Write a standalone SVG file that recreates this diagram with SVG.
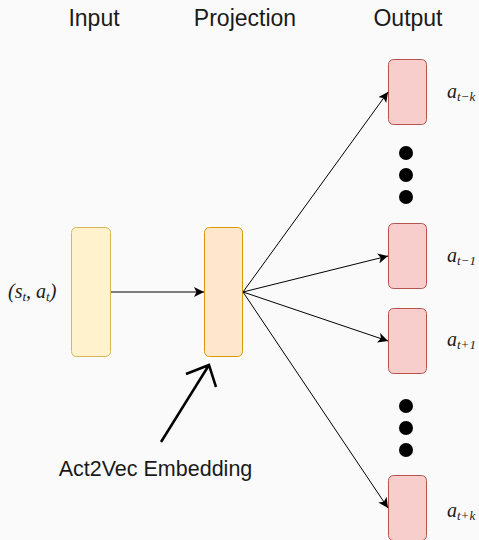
<svg xmlns="http://www.w3.org/2000/svg" width="479" height="540" viewBox="0 0 479 540">
<defs>
<marker id="ah" viewBox="0 0 10 10" refX="10" refY="5" markerWidth="10" markerHeight="10" markerUnits="userSpaceOnUse" orient="auto">
<path d="M0,0 L10,5 L0,10 L2.5,5 Z" fill="#000"/>
</marker>
<style>
.lbl{font-family:"Liberation Sans",Arial,sans-serif;font-size:23px;fill:#1a1a1a;text-anchor:middle}
.m{font-family:"Liberation Serif","Times New Roman",serif;font-style:italic;font-size:20px;fill:#1a1a1a}
.s{font-size:13px}
.c{stroke:#000;stroke-width:1;fill:none}
.out{fill:#f8cecc;stroke:#b85450;stroke-width:1}
.dot{fill:#000}
</style>
</defs>
<rect width="479" height="540" fill="#fafafa"/>
<text class="lbl" x="94" y="26">Input</text>
<text class="lbl" x="245" y="26">Projection</text>
<text class="lbl" x="408" y="26">Output</text>
<g id="input"><rect x="71.5" y="227.5" width="39" height="129" rx="5" fill="#fff2cc" stroke="#d6b656"/></g>
<g id="projection"><rect x="204.5" y="227.5" width="38" height="129" rx="5" fill="#ffe6cc" stroke="#d79b00"/></g>
<g id="out1"><rect class="out" x="388.5" y="59.5" width="38" height="65" rx="5"/></g>
<g id="out2"><rect class="out" x="388.5" y="223.5" width="38" height="65" rx="5"/></g>
<g id="out3"><rect class="out" x="388.5" y="308.5" width="38" height="65" rx="5"/></g>
<g id="out4"><rect class="out" x="388.5" y="475.5" width="38" height="65" rx="5"/></g>
<g id="dots1"><circle class="dot" cx="406" cy="153" r="7"/><circle class="dot" cx="406" cy="175" r="7"/><circle class="dot" cx="406" cy="197" r="7"/></g>
<g id="dots2"><circle class="dot" cx="406" cy="406" r="7"/><circle class="dot" cx="406" cy="428" r="7"/><circle class="dot" cx="406" cy="450" r="7"/></g>
<g id="connectors">
<line class="c" x1="111" y1="292" x2="204" y2="292" marker-end="url(#ah)"/>
<line class="c" x1="243" y1="292" x2="388" y2="92" marker-end="url(#ah)"/>
<line class="c" x1="243" y1="292" x2="388" y2="256" marker-end="url(#ah)"/>
<line class="c" x1="243" y1="292" x2="388" y2="341" marker-end="url(#ah)"/>
<line class="c" x1="243" y1="292" x2="388" y2="508" marker-end="url(#ah)"/>
<path d="M161,442 L209,365 M186,374 L209,365 L216,387" fill="none" stroke="#000" stroke-width="2.5"/>
</g>
<text class="m" x="8" y="298">(<tspan>s</tspan><tspan class="s" dy="3">t</tspan><tspan dy="-3">, a</tspan><tspan class="s" dy="3">t</tspan><tspan dy="-3">)</tspan></text>
<text class="m" x="447" y="98">a<tspan class="s" dy="3">t−k</tspan></text>
<text class="m" x="447" y="262">a<tspan class="s" dy="3">t−1</tspan></text>
<text class="m" x="447" y="346">a<tspan class="s" dy="3">t+1</tspan></text>
<text class="m" x="447" y="517">a<tspan class="s" dy="3">t+k</tspan></text>
<text class="lbl" x="155.5" y="476" style="font-size:21.5px">Act2Vec Embedding</text>
</svg>
